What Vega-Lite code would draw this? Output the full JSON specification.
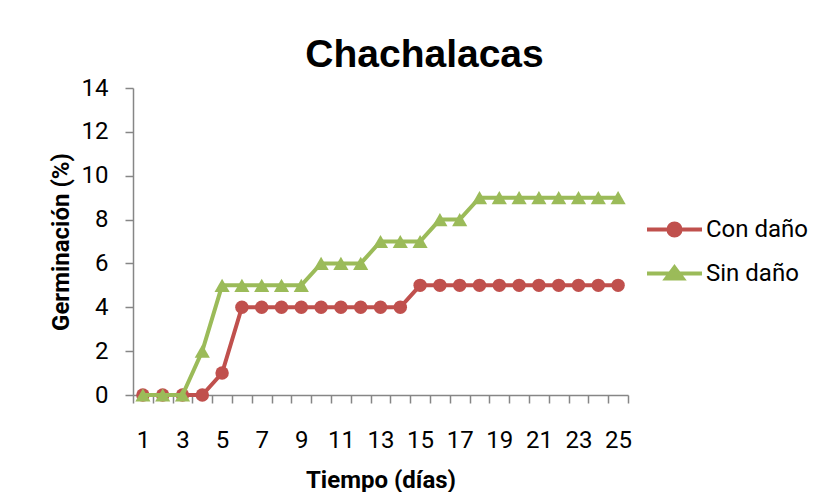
{
  "$schema": "https://vega.github.io/schema/vega-lite/v6.json",
  "width": 495,
  "height": 307,
  "autosize": {"type": "none"},
  "padding": {"left": 133, "top": 88, "right": 188, "bottom": 97},
  "background": "white",
  "title": {
    "text": "Chachalacas",
    "font": "Liberation Sans",
    "fontSize": 39,
    "fontWeight": "bold",
    "color": "black",
    "anchor": "middle",
    "dx": 44,
    "offset": 1
  },
  "data": {
    "values": [
      {"dia": 1, "serie": "Con daño", "germinacion": 0},
      {"dia": 2, "serie": "Con daño", "germinacion": 0},
      {"dia": 3, "serie": "Con daño", "germinacion": 0},
      {"dia": 4, "serie": "Con daño", "germinacion": 0},
      {"dia": 5, "serie": "Con daño", "germinacion": 1},
      {"dia": 6, "serie": "Con daño", "germinacion": 4},
      {"dia": 7, "serie": "Con daño", "germinacion": 4},
      {"dia": 8, "serie": "Con daño", "germinacion": 4},
      {"dia": 9, "serie": "Con daño", "germinacion": 4},
      {"dia": 10, "serie": "Con daño", "germinacion": 4},
      {"dia": 11, "serie": "Con daño", "germinacion": 4},
      {"dia": 12, "serie": "Con daño", "germinacion": 4},
      {"dia": 13, "serie": "Con daño", "germinacion": 4},
      {"dia": 14, "serie": "Con daño", "germinacion": 4},
      {"dia": 15, "serie": "Con daño", "germinacion": 5},
      {"dia": 16, "serie": "Con daño", "germinacion": 5},
      {"dia": 17, "serie": "Con daño", "germinacion": 5},
      {"dia": 18, "serie": "Con daño", "germinacion": 5},
      {"dia": 19, "serie": "Con daño", "germinacion": 5},
      {"dia": 20, "serie": "Con daño", "germinacion": 5},
      {"dia": 21, "serie": "Con daño", "germinacion": 5},
      {"dia": 22, "serie": "Con daño", "germinacion": 5},
      {"dia": 23, "serie": "Con daño", "germinacion": 5},
      {"dia": 24, "serie": "Con daño", "germinacion": 5},
      {"dia": 25, "serie": "Con daño", "germinacion": 5},
      {"dia": 1, "serie": "Sin daño", "germinacion": 0},
      {"dia": 2, "serie": "Sin daño", "germinacion": 0},
      {"dia": 3, "serie": "Sin daño", "germinacion": 0},
      {"dia": 4, "serie": "Sin daño", "germinacion": 2},
      {"dia": 5, "serie": "Sin daño", "germinacion": 5},
      {"dia": 6, "serie": "Sin daño", "germinacion": 5},
      {"dia": 7, "serie": "Sin daño", "germinacion": 5},
      {"dia": 8, "serie": "Sin daño", "germinacion": 5},
      {"dia": 9, "serie": "Sin daño", "germinacion": 5},
      {"dia": 10, "serie": "Sin daño", "germinacion": 6},
      {"dia": 11, "serie": "Sin daño", "germinacion": 6},
      {"dia": 12, "serie": "Sin daño", "germinacion": 6},
      {"dia": 13, "serie": "Sin daño", "germinacion": 7},
      {"dia": 14, "serie": "Sin daño", "germinacion": 7},
      {"dia": 15, "serie": "Sin daño", "germinacion": 7},
      {"dia": 16, "serie": "Sin daño", "germinacion": 8},
      {"dia": 17, "serie": "Sin daño", "germinacion": 8},
      {"dia": 18, "serie": "Sin daño", "germinacion": 9},
      {"dia": 19, "serie": "Sin daño", "germinacion": 9},
      {"dia": 20, "serie": "Sin daño", "germinacion": 9},
      {"dia": 21, "serie": "Sin daño", "germinacion": 9},
      {"dia": 22, "serie": "Sin daño", "germinacion": 9},
      {"dia": 23, "serie": "Sin daño", "germinacion": 9},
      {"dia": 24, "serie": "Sin daño", "germinacion": 9},
      {"dia": 25, "serie": "Sin daño", "germinacion": 9}
    ]
  },
  "encoding": {
    "x": {
      "field": "dia",
      "type": "ordinal",
      "scale": {"type": "band", "paddingInner": 0, "paddingOuter": 0},
      "axis": {
        "title": "Tiempo (días)",
        "labelAngle": 0,
        "tickBand": "extent",
        "labelExpr": "datum.value % 2 === 1 ? datum.label : ''",
        "labelPadding": 25,
        "titlePadding": 16
      }
    },
    "y": {
      "field": "germinacion",
      "type": "quantitative",
      "scale": {"domain": [0, 14], "nice": false},
      "axis": {
        "title": "Germinación (%)",
        "values": [0, 2, 4, 6, 8, 10, 12, 14],
        "labelPadding": 17,
        "titlePadding": 8
      }
    },
    "color": {
      "field": "serie",
      "type": "nominal",
      "scale": {"domain": ["Con daño", "Sin daño"], "range": ["#C0504D", "#9BBB59"]},
      "legend": {
        "title": null,
        "orient": "none",
        "legendX": 512,
        "legendY": 112,
        "padding": 0,
        "symbolSize": 3025,
        "rowPadding": -7,
        "labelOffset": 2,
        "labelFont": "Roboto",
        "labelFontSize": 24,
        "labelColor": "black",
        "labelLimit": 200,
        "encode": {
          "symbols": {
            "update": {
              "shape": {"signal": "datum.value === 'Con daño' ? 'M-1,0L1,0M0.22,0A0.22,0.22 0 1,1 -0.22,0A0.22,0.22 0 1,1 0.22,0Z' : 'M-1,0L1,0M0,-0.22L0.3,0.18L-0.3,0.18Z'"},
              "fill": {"signal": "datum.value === 'Con daño' ? '#C0504D' : '#9BBB59'"},
              "stroke": {"signal": "datum.value === 'Con daño' ? '#C0504D' : '#9BBB59'"},
              "strokeWidth": {"value": 4},
              "opacity": {"value": 1},
              "fillOpacity": {"value": 1}
            }
          }
        }
      }
    }
  },
  "layer": [
    {
      "transform": [{"filter": "datum.serie === 'Con daño'"}],
      "mark": {
        "type": "line",
        "strokeWidth": 4,
        "point": {"shape": "circle", "size": 180, "filled": true, "opacity": 1}
      }
    },
    {
      "transform": [{"filter": "datum.serie === 'Sin daño'"}],
      "mark": {
        "type": "line",
        "strokeWidth": 4,
        "point": {"shape": "triangle-up", "size": 230, "filled": true, "opacity": 1}
      }
    }
  ],
  "config": {
    "view": {"stroke": null},
    "axis": {
      "grid": false,
      "domainColor": "#868686",
      "domainWidth": 1.5,
      "tickColor": "#868686",
      "tickWidth": 1.5,
      "tickSize": 8,
      "labelFont": "Roboto",
      "labelFontSize": 24,
      "labelColor": "black",
      "titleFont": "Roboto",
      "titleFontSize": 24,
      "titleFontWeight": "bold",
      "titleColor": "black"
    }
  }
}
